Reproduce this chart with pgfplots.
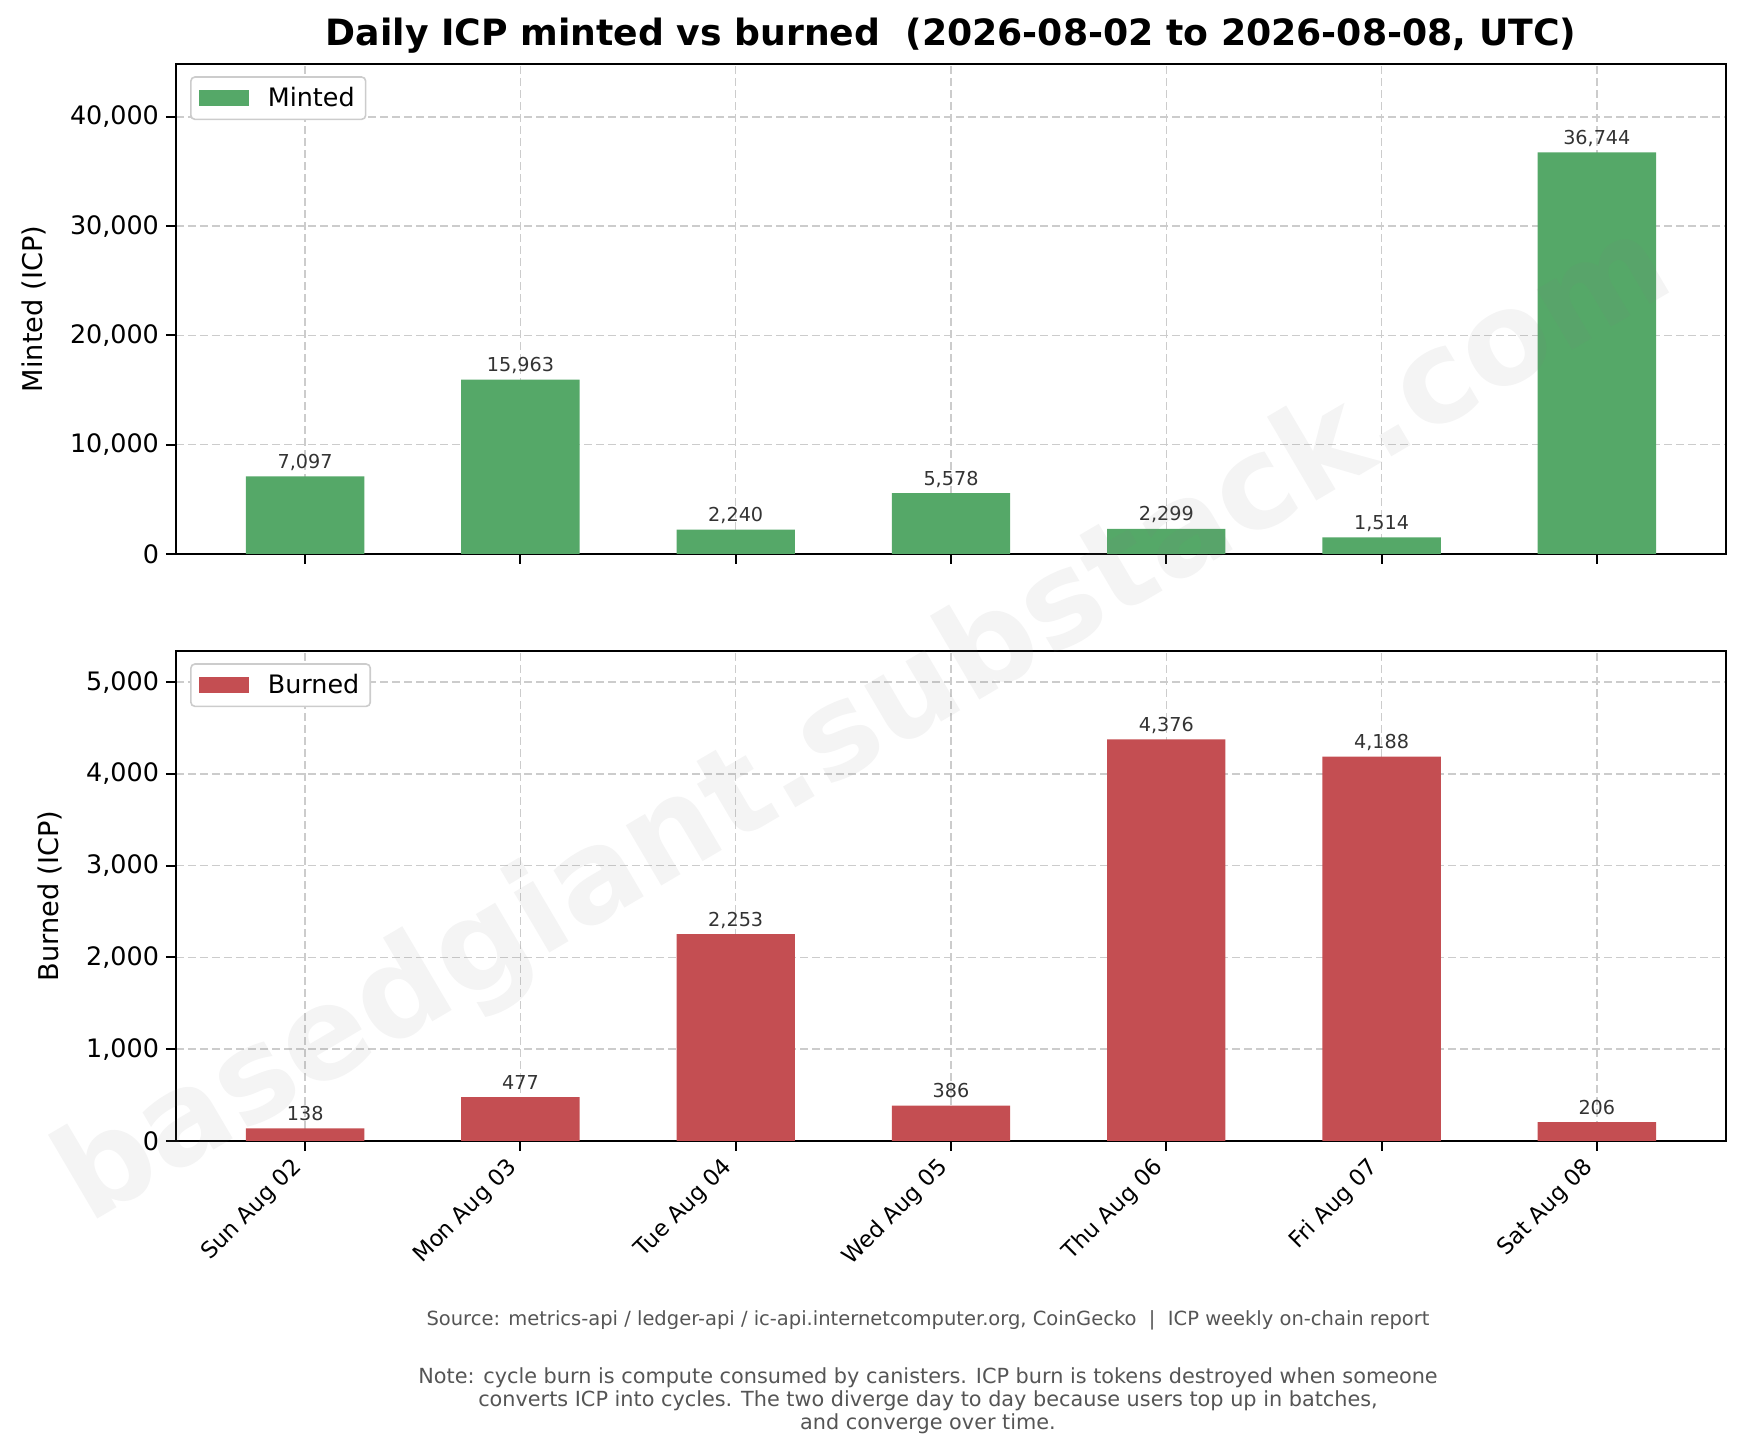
\documentclass[border=0pt]{standalone}
\usepackage{fontspec}
\setmainfont{DejaVu Sans}
\usepackage{pgfplots}
\pgfplotsset{compat=1.18}
\definecolor{mgreen}{HTML}{55A868}
\definecolor{bred}{HTML}{C44E52}
\definecolor{gridc}{HTML}{CCCCCC}
\definecolor{lbl}{HTML}{333333}
\definecolor{foot}{HTML}{555555}
\pgfplotsset{
 myaxis/.style={
  scale only axis, width=775pt, height=245pt,
  xmin=-0.6, xmax=6.6, ymin=0,
  xtick={0,...,6},
  axis line style={line width=1pt},
  every tick/.style={line width=1pt, black},
  major tick length=5pt,
  tick align=outside, xtick pos=bottom, ytick pos=left,
  grid=major,
  major grid style={gridc, line width=0.75pt, dash pattern=on 4pt off 2pt},
  scaled y ticks=false,
  /pgf/number format/1000 sep={,},
  /pgf/number format/assume math mode=true,
  yticklabel style={font=\fontsize{12.7}{14}\selectfont},
  ylabel style={font=\fontsize{13.6}{15}\selectfont},
  ylabel shift=5pt,
  nodes near coords,
  nodes near coords style={font=\fontsize{9.6}{11}\selectfont, text=lbl, anchor=base, inner sep=0pt, yshift=4pt},
  legend style={at={(0.0091,0.975)}, anchor=north west, draw=gridc, line width=0.8pt, rounded corners=2pt, font=\fontsize{12.7}{14}\selectfont, inner xsep=4pt, inner ysep=3pt, nodes={inner xsep=1.5pt}},
  legend image code/.code={\fill[##1, sharp corners] (0pt,-4pt) rectangle (25pt,4pt); \path (33pt,0pt);},
 }
}
\begin{document}
\begin{tikzpicture}
\path[use as bounding box] (0,0) rectangle (873pt,726pt);
\node[font=\fontsize{18.1}{20}\bfseries\selectfont] at (475.5pt,708pt) {Daily ICP minted vs burned\ \ (2026-08-02 to 2026-08-08, UTC)};
\begin{axis}[myaxis, at={(88pt,449pt)}, anchor=south west,
  ymax=44828, ytick={0,10000,20000,30000,40000},
  xticklabels={}, ylabel={Minted (ICP)}]
\addplot[ybar, bar width=0.55, fill=mgreen, draw=none] coordinates {
 (0,7097) (1,15963) (2,2240) (3,5578) (4,2299) (5,1514) (6,36744)};
\addlegendentry{Minted}
\end{axis}
\begin{axis}[myaxis, at={(88pt,155.5pt)}, anchor=south west,
  ymax=5339, ytick={0,1000,2000,3000,4000,5000},
  xticklabels={Sun Aug 02,Mon Aug 03,Tue Aug 04,Wed Aug 05,Thu Aug 06,Fri Aug 07,Sat Aug 08},
  xticklabel style={font=\fontsize{11.3}{13}\selectfont, xshift=-2pt, yshift=-5pt, rotate=45, anchor=east, inner sep=2pt},
  ylabel={Burned (ICP)}]
\addplot[ybar, bar width=0.55, fill=bred, draw=none] coordinates {
 (0,138) (1,477) (2,2253) (3,386) (4,4376) (5,4188) (6,206)};
\addlegendentry{Burned}
\end{axis}
\node[font=\fontsize{9.75}{11}\selectfont, text=foot] at (464pt,66pt) {Source: metrics-api / ledger-api / ic-api.internetcomputer.org, CoinGecko\ \ |\ \ ICP weekly on-chain report};
\node[align=center, font=\fontsize{10.4}{11.4}\selectfont, text=foot] at (464pt,25.5pt) {Note: cycle burn is compute consumed by canisters. ICP burn is tokens destroyed when someone\\converts ICP into cycles. The two diverge day to day because users top up in batches,\\and converge over time.};
\node[rotate=30.5, text=gray, text opacity=0.09, font=\fontsize{64}{64}\bfseries\selectfont] at (433pt,363pt) {basedgiant.substack.com};
\end{tikzpicture}
\end{document}
